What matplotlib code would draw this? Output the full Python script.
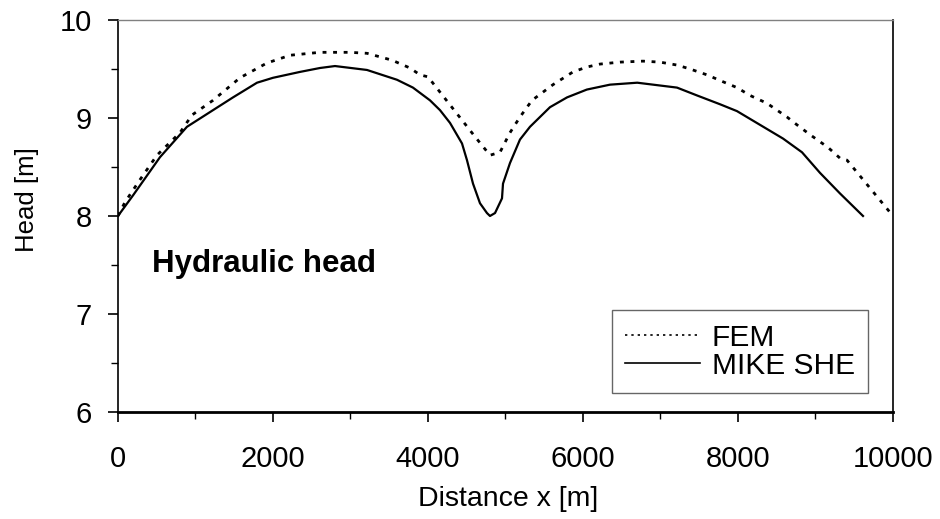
import matplotlib
matplotlib.use("Agg")
from matplotlib import pyplot as plt
from matplotlib.ticker import MultipleLocator

plt.rcParams["font.family"] = ["Liberation Sans", "DejaVu Sans"]
plt.rcParams["xtick.labelsize"] = 21
plt.rcParams["ytick.labelsize"] = 21

# FEM head along the profile
fem_x = [0, 90, 284, 503, 800, 955, 1226, 1574, 1920, 2219, 2606, 2994, 3213,
         3535, 3768, 3897, 4000, 4606, 4800, 4929, 5058, 5187, 5342, 5613,
         5871, 6050, 6219, 6477, 6774, 6994, 7213, 7381, 7600, 7806, 7987,
         8155, 8374, 8632, 8761, 8929, 9161, 9316, 9406, 10000]
fem_h = [8.0, 8.14, 8.37, 8.62, 8.85, 9.03, 9.18, 9.41, 9.56, 9.64, 9.67, 9.67,
         9.66, 9.59, 9.51, 9.44, 9.42, 8.81, 8.62, 8.65, 8.85, 9.01, 9.18, 9.34,
         9.47, 9.52, 9.55, 9.57, 9.58, 9.57, 9.54, 9.50, 9.44, 9.37, 9.31,
         9.23, 9.15, 9.01, 8.93, 8.83, 8.70, 8.59, 8.57, 8.0]

# MIKE SHE head
she_x = [0, 194, 542, 890, 1187, 1484, 1794, 2000, 2348, 2606, 2800, 3213,
         3600, 3806, 4026, 4155, 4284, 4439, 4503, 4581, 4671, 4761, 4800,
         4865, 4955, 4968, 5058, 5187, 5316, 5574, 5794, 6050, 6348, 6700,
         7213, 7471, 7768, 7987, 8284, 8581, 8826, 9058, 9316, 9613]
she_h = [8.0, 8.21, 8.60, 8.91, 9.06, 9.21, 9.36, 9.41, 9.47, 9.51, 9.53, 9.49,
         9.39, 9.31, 9.18, 9.08, 8.95, 8.74, 8.57, 8.33, 8.13, 8.03, 8.0,
         8.03, 8.18, 8.33, 8.54, 8.78, 8.91, 9.11, 9.21, 9.29, 9.34, 9.36,
         9.31, 9.23, 9.14, 9.07, 8.93, 8.79, 8.65, 8.44, 8.23, 8.0]


def style_axes(ax):
    ax.set_xlim(0, 10000)
    ax.set_ylim(6, 10)
    ax.xaxis.set_major_locator(MultipleLocator(2000))
    ax.xaxis.set_minor_locator(MultipleLocator(1000))
    ax.yaxis.set_major_locator(MultipleLocator(1))
    ax.yaxis.set_minor_locator(MultipleLocator(0.5))
    ax.tick_params(which="both", direction="out", top=False, right=False)
    ax.tick_params(axis="x", which="major", length=7, width=1.2, pad=17)
    ax.tick_params(axis="x", which="minor", length=5, width=1.0)
    ax.tick_params(axis="y", which="major", length=7, width=1.2, pad=12)
    ax.tick_params(axis="y", which="minor", length=5, width=1.0)
    ax.spines["top"].set_color("#808080")
    ax.spines["top"].set_linewidth(1.0)
    ax.spines["right"].set_linewidth(1.2)
    ax.spines["left"].set_linewidth(1.2)
    ax.spines["bottom"].set_linewidth(2.0)


fig = plt.figure(figsize=(9.4, 5.19), dpi=100)
ax = fig.add_axes([0.1255, 0.2062, 0.8245, 0.7553])

ax.plot(fem_x, fem_h, color="black", lw=2.0, ls=(0, (1.4, 2.4)), label="FEM")
ax.plot(she_x, she_h, color="black", lw=1.6, ls="-", label="MIKE SHE")

ax.text(440, 7.43, "Hydraulic head", fontsize=22.5, fontweight="bold",
        ha="left", va="baseline")

style_axes(ax)
ax.set_xlabel("Distance x [m]", fontsize=20.5)
ax.set_ylabel("Head [m]", fontsize=18.5)
ax.xaxis.set_label_coords(0.503, -0.19)
ax.yaxis.set_label_coords(-0.102, 0.541)

leg = ax.legend(loc="lower right", bbox_to_anchor=(0.968, 0.048), fontsize=21.5,
                frameon=True, fancybox=False, handlelength=2.5, handletextpad=0.4,
                borderpad=0.45, labelspacing=0.0, borderaxespad=0)
leg.get_frame().set_edgecolor("#404040")
leg.get_frame().set_linewidth(1.0)
for line in leg.get_lines():
    line.set_linewidth(1.2)

fig.savefig("out.png", dpi=100)
